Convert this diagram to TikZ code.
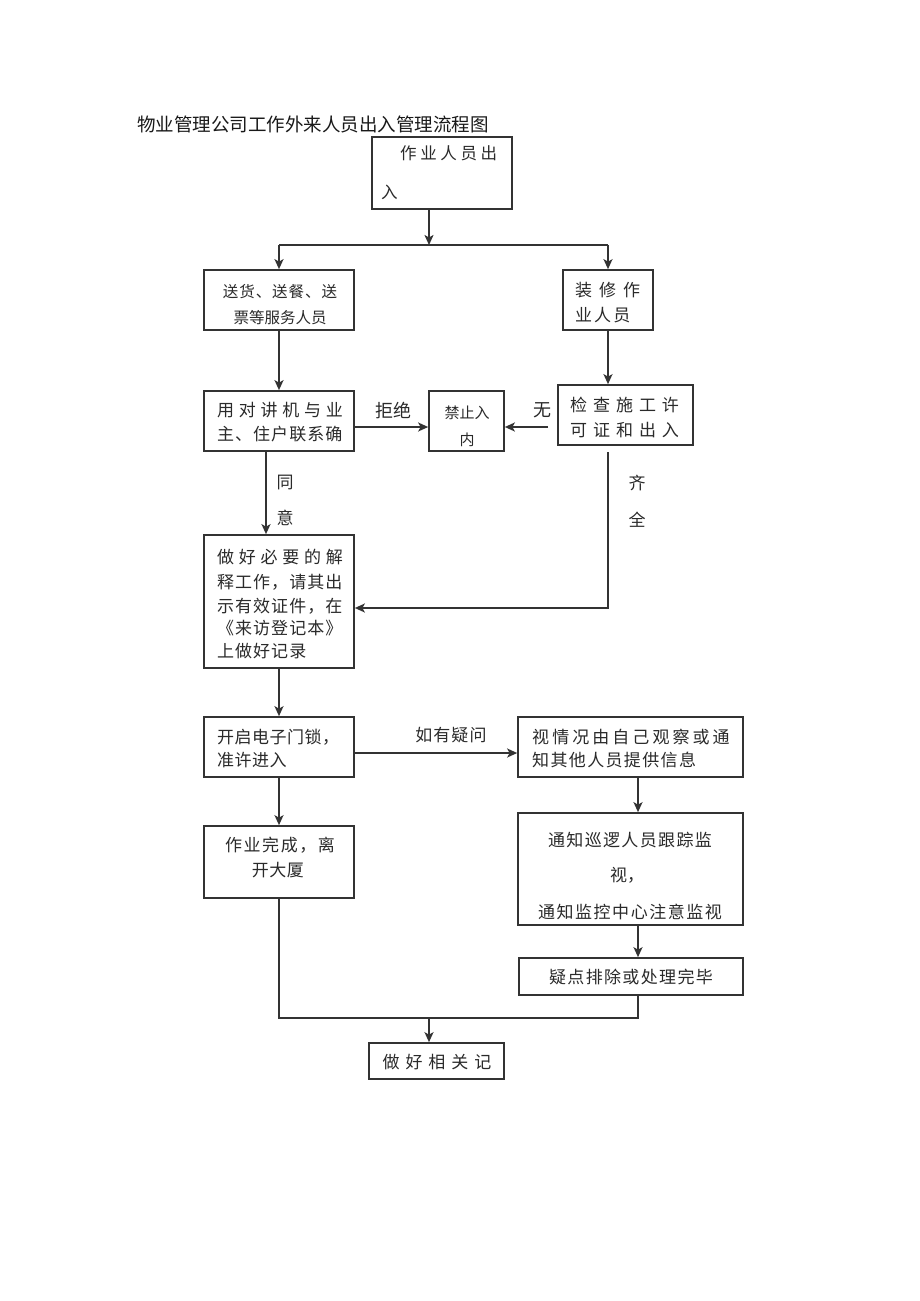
\documentclass[tikz,border=0pt]{standalone}
\usepackage{fontspec}
\setmainfont{Noto Sans CJK SC}
\usetikzlibrary{arrows.meta}
\definecolor{ink}{HTML}{2A2A2A}
\definecolor{edge}{HTML}{333333}
\newcommand{\tf}[2]{\fontsize{#1}{#1}\selectfont\addfontfeature{LetterSpace=#2}}
\tikzset{
  box/.style={draw=edge, line width=1.7pt, rectangle, inner sep=0pt},
  txt/.style={inner sep=0pt, text=ink},
  ln/.style={draw=edge, line width=1.7pt},
  arr/.style={draw=edge, line width=1.7pt, -{Stealth[length=10pt,width=9pt,inset=2.5pt]}}
}
\begin{document}
\begin{tikzpicture}[x=1pt,y=-1pt]
\useasboundingbox[fill=white] (0,0) rectangle (920,1301);
% title
\node[txt, anchor=west, text=black!90, font=\tf{18.5}{0}] (title) at (137,124) {物业管理公司工作外来人员出入管理流程图};
% boxes
\node[box, minimum width=140pt, minimum height=72pt] (A) at (442,173) {};
\node[box, minimum width=150pt, minimum height=60pt] (B) at (279,300) {};
\node[box, minimum width=90pt, minimum height=60pt] (C) at (608,300) {};
\node[box, minimum width=150pt, minimum height=60pt] (D) at (279,421) {};
\node[box, minimum width=75pt, minimum height=60pt] (E) at (466.5,421) {};
\node[box, minimum width=135pt, minimum height=60pt] (F) at (625.5,415) {};
\node[box, minimum width=150pt, minimum height=133pt] (G) at (279,601.5) {};
\node[box, minimum width=150pt, minimum height=60pt] (H) at (279,747) {};
\node[box, minimum width=150pt, minimum height=72pt] (I) at (279,862) {};
\node[box, minimum width=225pt, minimum height=60pt] (J) at (630.5,747) {};
\node[box, minimum width=225pt, minimum height=112pt] (K) at (630.5,869) {};
\node[box, minimum width=224pt, minimum height=37pt] (L) at (631,976.5) {};
\node[box, minimum width=135pt, minimum height=36pt] (M) at (436.5,1061) {};
% texts
\node[txt, anchor=west, font=\tf{16.5}{22}] (a1) at (400,153) {作业人员出};
\node[txt, anchor=west, font=\tf{16.5}{0}] (a2) at (381,192) {入};
\node[txt, font=\tf{15.5}{6}] (b1) at (280,292) {送货、送餐、送};
\node[txt, font=\tf{15.5}{0}] (b2) at (280,318) {票等服务人员};
\node[txt, anchor=west, font=\tf{17}{41}] (c1) at (575,290) {装修作};
\node[txt, anchor=west, font=\tf{17}{12}] (c2) at (575,315) {业人员};
\node[txt, anchor=west, font=\tf{17}{28}] (d1) at (217,410) {用对讲机与业};
\node[txt, anchor=west, font=\tf{17}{6}] (d2) at (217,434) {主、住户联系确};
\node[txt, font=\tf{15}{0}] (e1) at (467,413) {禁止入};
\node[txt, font=\tf{15}{0}] (e2) at (467,440) {内};
\node[txt, font=\tf{18}{0}] (lrefuse) at (393,410) {拒绝};
\node[txt, font=\tf{18}{0}] (lnone) at (542,410) {无};
\node[txt, anchor=west, font=\tf{17}{35}] (f1t) at (570,405) {检查施工许};
\node[txt, anchor=west, font=\tf{17}{35}] (f2t) at (570,430) {可证和出入};
\node[txt, font=\tf{17}{0}] (ltong) at (285,482) {同};
\node[txt, font=\tf{17}{0}] (lyi) at (285,518) {意};
\node[txt, font=\tf{17}{0}] (lqi) at (637,483) {齐};
\node[txt, font=\tf{17}{0}] (lquan) at (637,520) {全};
\node[txt, anchor=west, font=\tf{17}{28}] (g1) at (217,557) {做好必要的解};
\node[txt, anchor=west, font=\tf{17}{6}] (g2) at (217,582) {释工作，请其出};
\node[txt, anchor=west, font=\tf{17}{6}] (g3) at (217,606) {示有效证件，在};
\node[txt, anchor=west, font=\tf{17}{6}] (g4) at (217,628) {《来访登记本》};
\node[txt, anchor=west, font=\tf{17}{6}] (g5) at (217,651) {上做好记录};
\node[txt, anchor=west, font=\tf{17}{3}] (h1) at (217,737) {开启电子门锁，};
\node[txt, anchor=west, font=\tf{17}{3}] (h2) at (217,760) {准许进入};
\node[txt, font=\tf{17}{9}] (i1) at (280,845) {作业完成，离};
\node[txt, font=\tf{17}{3}] (i2) at (278,870) {开大厦};
\node[txt, font=\tf{17}{6}] (lq) at (451,735) {如有疑问};
\node[txt, anchor=west, font=\tf{17}{18}] (j1t) at (532,737) {视情况由自己观察或通};
\node[txt, anchor=west, font=\tf{17}{8}] (j2t) at (532,760) {知其他人员提供信息};
\node[txt, font=\tf{17}{8}] (k1) at (630,840) {通知巡逻人员跟踪监};
\node[txt, font=\tf{17}{0}] (k2) at (627,875) {视，};
\node[txt, font=\tf{17}{9}] (k3) at (630,912) {通知监控中心注意监视};
\node[txt, font=\tf{17}{8}] (l1) at (631,977) {疑点排除或处理完毕};
\node[txt, font=\tf{17}{35}] (m1) at (437,1062) {做好相关记};
% coordinates
\coordinate (j0) at (429,245);
\coordinate (jB) at (279,245);
\coordinate (jC) at (608,245);
\coordinate (yDE) at (0,427);
\coordinate (fs) at (548,427);
\coordinate (fa) at (608,452);
\coordinate (fb) at (608,608);
\coordinate (xDG) at (266,0);
\coordinate (yHJ) at (0,753);
\coordinate (xJK) at (638,0);
\coordinate (b1) at (279,1018);
\coordinate (b2) at (638,1018);
\coordinate (bm) at (429,1018);
% connectors
\draw[arr] (A.south -| j0) -- (j0);
\draw[ln] (jB) -- (jC);
\draw[arr] (jB) -- (B.north);
\draw[arr] (jC) -- (C.north);
\draw[arr] (B.south) -- (D.north);
\draw[arr] (C.south) -- (F.north -| C.south);
\draw[arr] (D.east |- yDE) -- (E.west |- yDE);
\draw[arr] (fs) -- (E.east |- fs);
\draw[arr] (fa) -- (fb) -- (G.east |- fb);
\draw[arr] (D.south -| xDG) -- (G.north -| xDG);
\draw[arr] (G.south) -- (H.north);
\draw[arr] (H.south) -- (I.north);
\draw[arr] (H.east |- yHJ) -- (J.west |- yHJ);
\draw[arr] (J.south -| xJK) -- (K.north -| xJK);
\draw[arr] (K.south -| xJK) -- (L.north -| xJK);
\draw[ln] (I.south) -- (b1) -- (b2) -- (L.south -| b2);
\draw[arr] (bm) -- (M.north -| bm);
\end{tikzpicture}
\end{document}
